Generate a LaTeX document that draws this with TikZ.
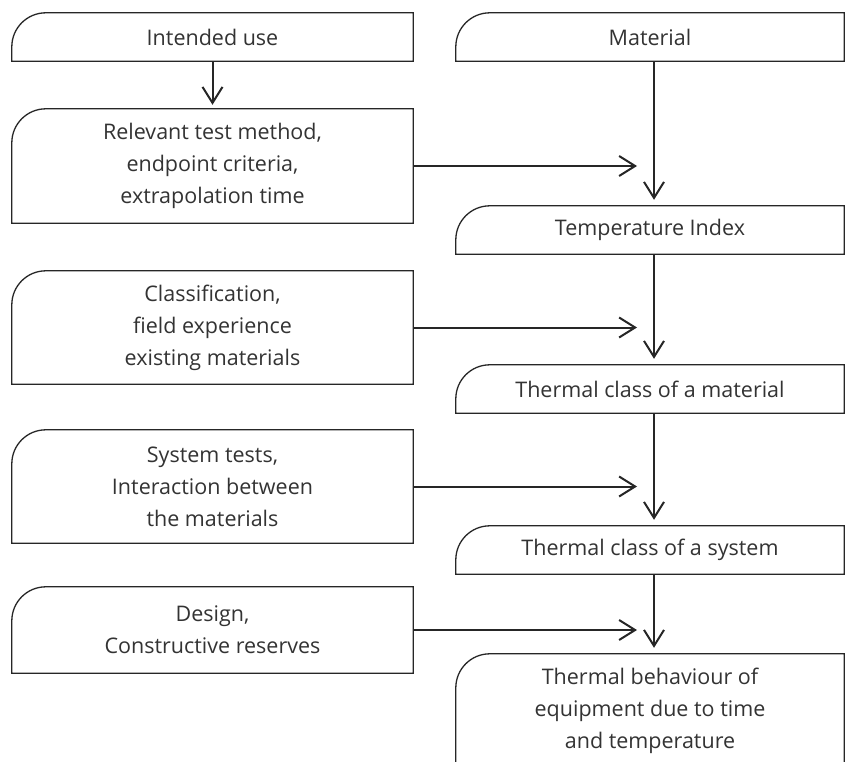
\documentclass[tikz,border=0pt]{standalone}
\usepackage{fontspec}
\setmainfont{Open Sans}
\usepackage{tikz}
\usetikzlibrary{arrows.meta, positioning}

\begin{document}
\begin{tikzpicture}[
    x=1pt, y=1pt,
    every node/.style={font=\fontsize{21.5}{32}\selectfont, text=black!80},
    lbox/.style={minimum width=401pt, minimum height=113pt, align=center, inner sep=0pt},
    rbox/.style={minimum width=388pt, minimum height=48pt, align=center, inner sep=0pt},
    arr/.style={-{Straight Barb[length=16pt, width=20pt]}, line width=2pt, draw=black!85},
  ]
  \clip (0,0) rectangle (845,-762);
  % left column
  \node[lbox, minimum height=48pt] (use) at (212.5,-37) {Intended use};
  \node[lbox, minimum height=114pt] (test) at (212.5,-166)
    {Relevant test method,\\endpoint criteria,\\extrapolation time};
  \node[lbox] (class) at (212.5,-327.5)
    {Classification,\\field experience\\existing materials};
  \node[lbox] (systest) at (212.5,-486.5)
    {System tests,\\Interaction between\\the materials};
  \node[lbox, minimum height=86pt] (design) at (212.5,-630)
    {Design,\\Constructive reserves};
  % right column
  \node[rbox] (mat) at (650,-37) {Material};
  \node[rbox] (tindex) at (650,-230) {Temperature Index};
  \node[rbox] (tcmat) at (650,-389) {Thermal class of a material};
  \node[rbox] (tcsys) at (650,-550) {Thermal class of a system};
  \node[rbox, minimum height=113pt] (behav) at (650,-710.5)
    {Thermal behaviour of\\equipment due to time\\and temperature};

  % outlines, rounded at the top left only
  \foreach \n in {use,test,class,systest,design,mat,tindex,tcmat,tcsys,behav}
    \draw[line width=1.3pt, black!85] (\n.north east) -- (\n.south east)
      -- (\n.south west) [rounded corners=34pt] -- (\n.north west)
      [sharp corners] -- cycle;

  \draw[arr, shorten >=4pt] (use) -- (test);
  \foreach \a/\b in {mat/tindex, tindex/tcmat, tcmat/tcsys, tcsys/behav}
    \draw[arr, shorten >=6pt] ([xshift=4pt]\a.south) -- ([xshift=4pt]\b.north);
  \foreach \a/\b in {test/tindex, class/tcmat, systest/tcsys, design/behav}
    \draw[arr, shorten >=13pt] (\a) -- (\a -| \b);
\end{tikzpicture}
\end{document}
